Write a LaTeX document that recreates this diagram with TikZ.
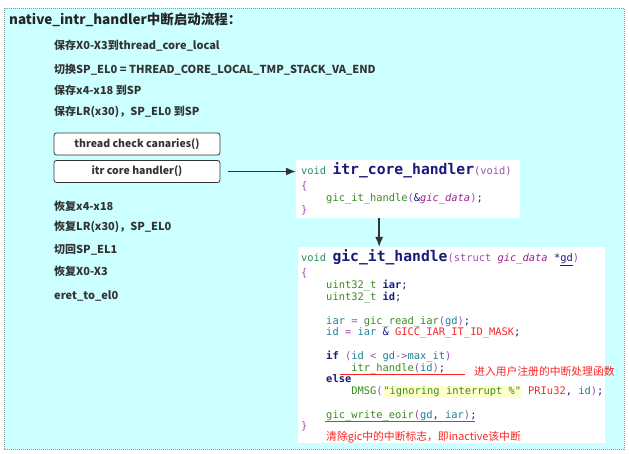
\documentclass[tikz,border=0pt]{standalone}
\usepackage{fontspec}
\setmainfont{Noto Sans CJK SC}
\setmonofont{DejaVu Sans Mono}
\usetikzlibrary{arrows.meta}

\definecolor{panelcyan}{HTML}{CCFFFF}
\definecolor{framegray}{HTML}{8A9A9A}
\definecolor{arrowgray}{HTML}{333333}
\definecolor{kwnavy}{HTML}{1A1A7A}
\definecolor{voidgreen}{HTML}{2E8B6A}
\definecolor{fngreen}{HTML}{3A8A1E}
\definecolor{punc}{HTML}{9B4FB0}
\definecolor{datapurple}{HTML}{A0208F}
\definecolor{varteal}{HTML}{1F7F95}
\definecolor{macrored}{HTML}{F02A2A}
\definecolor{notered}{HTML}{FF2222}
\definecolor{hlyellow}{HTML}{FFFFCC}

% colour helpers for the code listing
\newcommand{\cvoid}[1]{\textcolor{voidgreen}{#1}}
\newcommand{\cfn}[1]{\textcolor{fngreen}{#1}}
\newcommand{\cpu}[1]{\textcolor{punc}{#1}}
\newcommand{\cvar}[1]{\textcolor{varteal}{#1}}
\newcommand{\ckw}[1]{\textcolor{kwnavy}{\bfseries #1}}
\newcommand{\cmac}[1]{\textcolor{macrored}{#1}}
\newcommand{\cdata}[1]{\textcolor{datapurple}{\itshape #1}}
\newcommand{\cbig}[1]{{\fontsize{14.7}{16}\selectfont\bfseries\textcolor{kwnavy}{#1}}}

\begin{document}
\begin{tikzpicture}
	[
	x=1pt,y=-1pt,
	stepline/.style={anchor=base west,inner sep=0pt,font=\fontsize{11}{13}\selectfont\bfseries,text=black!80},
	callbox/.style={rectangle,rounded corners=2.5pt,draw=arrowgray,fill=white,line width=0.8pt,
		minimum width=166pt,minimum height=22pt,inner sep=0pt,font=\fontsize{10.5}{12}\selectfont\bfseries,text=black!80},
	codebox/.style={rectangle,fill=white,inner sep=0pt,anchor=north west},
	code/.style={anchor=base west,inner sep=0pt,font=\ttfamily\fontsize{10.4}{12}\selectfont,text=kwnavy},
	note/.style={anchor=base west,inner sep=0pt,font=\fontsize{10.8}{12}\selectfont,text=notered},
	flow/.style={draw=arrowgray,line width=1.6pt,-{Latex[length=10pt,width=8pt]}},
	redmark/.style={draw=notered,line width=1.2pt},
	]
	% canvas and panel
	\useasboundingbox[fill=white] (0,0) rectangle (629,454);
	\draw[framegray,fill=panelcyan,line width=0.8pt,dash pattern=on 1pt off 1pt] (4,8) rectangle (624,449);

	\node[anchor=base west,inner sep=0pt,font=\fontsize{13.5}{15}\selectfont\bfseries,text=black!85] (title) at (9,25) {native\_intr\_handler中断启动流程：};

	% steps on the left
	\node[stepline] (save03) at (54,50) {保存X0-X3到thread\_core\_local};
	\node[stepline] (swsp) at (54,74) {切换SP\_EL0 = THREAD\_CORE\_LOCAL\_TMP\_STACK\_VA\_END};
	\node[stepline] (save418) at (54,95) {保存x4-x18 到SP};
	\node[stepline] (savelr) at (54,116) {保存LR(x30)，SP\_EL0 到SP};
	\node[callbox] (canary) at (137,144) {thread check canaries()};
	\node[callbox] (corecall) at (137,171.5) {itr core handler()};
	\node[stepline] (rest418) at (54,211) {恢复x4-x18};
	\node[stepline] (restlr) at (54,231) {恢复LR(x30)，SP\_EL0};
	\node[stepline] (backsp) at (54,254) {切回SP\_EL1};
	\node[stepline] (rest03) at (54,276) {恢复X0-X3};
	\node[stepline] (eret) at (54,299) {eret\_to\_el0};

	% itr_core_handler listing
	\node[codebox,minimum width=224pt,minimum height=58pt] (code1) at (296,160) {};
	\node[code] (ch) at (301,175) {\cvoid{void} \cbig{itr\_core\_handler}\cpu{(void)}};
	\node[code] (cl1) at (301,190) {\cpu{\{}};
	\node[code] (cl2) at (301,201.5) {\phantom{xxxx}\cfn{gic\_it\_handle}\cpu{(}\&\cdata{gic\_data}\cpu{)};};
	\node[code] (cl3) at (301,213.5) {\cpu{\}}};

	% gic_it_handle listing
	\node[codebox,minimum width=307pt,minimum height=196pt] (code2) at (298,247) {};
	\node[code] (gh) at (301,262) {\cvoid{void} \cbig{gic\_it\_handle}\cpu{(struct }\cdata{gic\_data} *\underline{gd}\cpu{)}};
	\node[code] (g1) at (301,277) {\cpu{\{}};
	\node[code] (g2) at (301,288.75) {\phantom{xxxx}\cfn{uint32\_t} \ckw{iar};};
	\node[code] (g3) at (301,300.5) {\phantom{xxxx}\cfn{uint32\_t} \ckw{id};};
	\node[code] (g4) at (301,324) {\phantom{xxxx}\cvar{iar} \cpu{=} \cfn{gic\_read\_iar}\cpu{(}\cvar{gd}\cpu{)};};
	\node[code] (g5) at (301,335.75) {\phantom{xxxx}\cvar{id} \cpu{=} \cvar{iar} \& \cmac{GICC\_IAR\_IT\_ID\_MASK};};
	\node[code] (g6) at (301,359.25) {\phantom{xxxx}\ckw{if} \cpu{(}\cvar{id} \cpu{<} \cvar{gd}\cpu{->}\cvar{max\_it}\cpu{)}};
	\node[code] (g7) at (301,371) {\phantom{xxxxxxxx}\cfn{itr\_handle}\cpu{(}\cvar{id}\cpu{)};};
	\node[code] (g8) at (301,382.75) {\phantom{xxxx}\ckw{else}};
	\node[code] (g9) at (301,394.5) {\phantom{xxxxxxxx}\cfn{DMSG}\cpu{(}{\setlength{\fboxsep}{0.8pt}\colorbox{hlyellow}{\textcolor{fngreen}{"ignoring interrupt \%"}}} \cmac{PRIu32}, \cvar{id}\cpu{)};};
	\node[code] (g10) at (301,418) {\phantom{xxxx}\cfn{gic\_write\_eoir}\cpu{(}\cvar{gd}, \cvar{iar}\cpu{)};};
	\node[code] (g11) at (301,429.75) {\cpu{\}}};

	% red marks and notes
	\draw[redmark] (340,374.5) -- (465,374.5);
	\draw[redmark] (325,421.5) -- (475,421.5);
	\node[note] (noteuser) at (474,375) {进入用户注册的中断处理函数};
	\node[note] (noteeoir) at (326,440) {清除gic中的中断标志，即inactive该中断};

	% calls
	\draw[flow] ([xshift=8pt]corecall.east) -- (code1.west |- corecall.east);
	\draw[flow] ([xshift=-29pt]code1.south) -- ([xshift=-29pt]code1.south |- code2.north);
\end{tikzpicture}
\end{document}
